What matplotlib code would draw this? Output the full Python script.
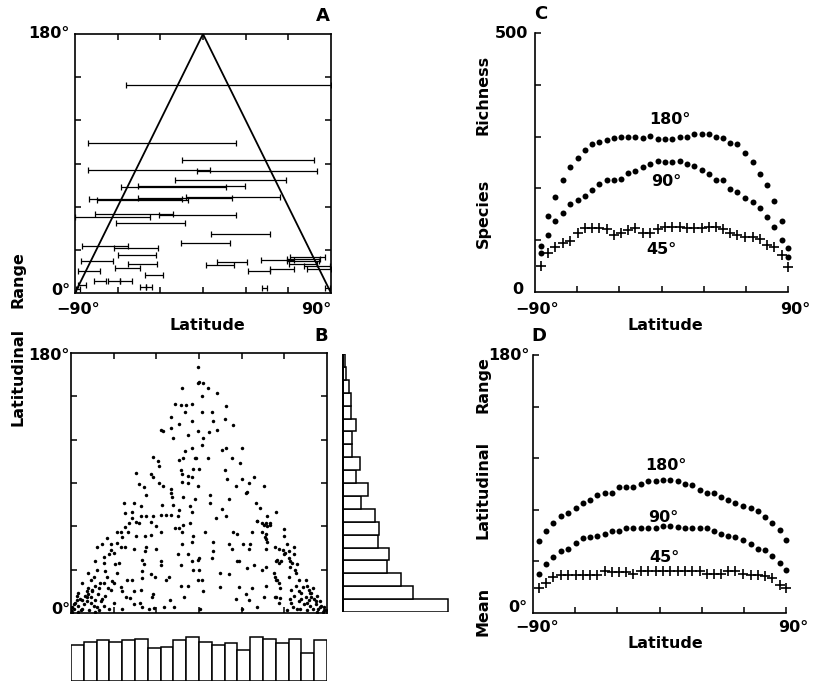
import numpy as np
import matplotlib
matplotlib.use('Agg')
import matplotlib.pyplot as plt

plt.rcParams['font.family'] = ['DejaVu Sans']
plt.rcParams['font.weight'] = 'bold'

W, H = 820, 682

# ---- panel A: sample of latitudinal ranges (south / north limits, degrees)
range_lo = [-54.3, -81.1, -14.9, -81.1, -4.3, -20.0, -57.8, -45.4, -12.1, -45.4,
            -79.9, -74.7, -75.9, -30.6, -90.0, -61.4, 5.5, -15.4, -85.3, -62.5,
            -59.5, -86.0, 9.7, -52.4, 2.0, -87.7, -61.8, 31.6, -40.7, 46.8,
            73.1, -76.4, -66.5, -58.3, -87.7, -44.3, -40.1, 41.4, 40.7, 59.0,
            61.3, 59.0, 60.2, 70.8, 86.0, -89.5]
range_hi = [90.0, 22.9, 77.8, 4.6, 80.2, 58.6, 16.1, 29.2, 54.3, 20.3,
            -14.9, -10.2, -20.8, 23.4, -37.2, -13.0, 46.8, 19.1, -52.4, -31.3,
            -33.2, -63.5, 30.9, -32.0, 21.5, -72.4, -44.2, 46.8, -28.3, 63.7,
            90.0, -68.2, -58.3, -50.1, -82.3, -40.1, -36.1, 44.9, 63.7, 82.5,
            86.0, 81.3, 80.2, 89.5, 89.5, -86.5]
tri_lat = [-90, 0, 90]
tri_range = [0, 180, 0]

# ---- panel B: midpoint latitude vs range of simulated species
b_lat = [-1, -1, -12, -17, -13, -9, -5, -20, -10, -5, -14,
         -27, -25, -20, -18, -8, -1, -5, -10,
         -32, -29, -28, -14, -11, -3, -4, -13,
         -44, -34, -32, -12, -8, -5,
         -42, -39, -28, -25, -20, -12, -8, -1,
         -37, -20, -19, -11, -3,
         -53, -46, -41, -26, -18, -6,
         -52, -47, -41, -37, -32, -27, -23, -20, -14, -5, -15,
         -44, -42, -34, -30, -17, -14, -11, -6, -12,
         -65, -58, -55, -50, -44, -38, -34, -27, -4,
         -72, -68, -62, -55, -52, -46, -37, -38, -30, -12, -5,
         -73, -67, -63, -59, -40, -39, -27, -15, -8, -5, -1,
         -78, -72, -66, -58, -47, -40, -34, -27, -23, -21, -13, -4,
         -82, -76, -73, -67, -61, -55, -40, -31, -1,
         -85, -79, -70, -62, -54, -46, -41, -33, -13, -8,
         -88, -86, -82, -76, -72, -68, -63, -60, -54, -51, -46, -40, -35, -32, -90, -89, -85,
         0, 3, 6, 13, 2, 19, 2, 9, 18, 24, 10, 7, 13, 3, 2, 19, 30, 16, -2, 6, 23, 29,
         0, 18, 20, 30, 39, 26, 35, 46, 33, 34, 8, 21, 8, 40, 16, 43, 54, 19, 41, 48,
         12, 47, 48, 50, 4, 24, 27, 37, 47, 60, 44,
         10, 21, 31, 36, 47, 60, 62, 67,
         10, 23, 35, 47, 56, 60, 63, 67,
         0, 9, 27, 28, 39, 47, 54, 58, 64, 69,
         0, 15, 21, 34, 44, 53, 54, 63, 68, 70, 75,
         2, 15, 28, 33, 37, 47, 57, 65, 70, 77, 78,
         3, 26, 30, 35, 41, 46, 54, 56, 62, 65, 69, 72, 76, 79, 82, 85, 88, 83, 1,
         -88, -87, -85, -84, -83, -81, -80, -79, -78, -77, -76, -75, -74, -73, -71,
         -70, -69, -67, -66, -64, -89, -86, -82, -78, -73,
         64, 66, 67, 68, 70, 71, 72, 73, 74, 75, 76, 77, 78, 79, 80, 81, 82, 83,
         84, 85, 86, 87, 88, 89, 80, 76,
         41, 44, 45.5, 50, 46.6, 47.8, 53.7, 54.8, 56, 58.8, 60.7, 63, 64.2, 65.4,
         67.7, 53.7, 54.8, 56, 53.2, 57.2,
         -66.9, -62.2, -59.9, -57.6, -54, -51.7, -49.4, -47, -56.4, -64.6, -69.3,
         -75.1, -78.6, -73.9, -59.9, -50.5, -48.2, -41.2, -31.8, -24.8, -20.1,
         -17.8, -10.8]
b_range = [170, 159, 156, 145, 144, 144, 145, 136, 139, 133, 131,
           127, 126, 128, 121, 123, 126, 114, 112,
           108, 105, 102, 106, 107, 107, 100, 99,
           97, 96, 94, 96, 95, 94,
           89, 87, 90, 88, 86, 91, 90, 88,
           82, 83, 80, 80, 79,
           76, 76, 74, 75, 75, 74,
           69, 70, 67, 67, 67, 68, 68, 68, 71, 70, 67,
           63, 62, 63, 60, 59, 59, 61, 62, 56,
           52, 56, 56, 56, 53, 53, 54, 56, 53,
           46, 48, 48, 46, 46, 44, 46, 43, 44, 48, 49,
           36, 39, 41, 34, 37, 34, 36, 41, 41, 36, 37,
           28, 30, 29, 28, 23, 29, 27, 33, 23, 25, 33, 30,
           21, 23, 19, 21, 22, 18, 24, 25, 23,
           14, 15, 17, 16, 15, 15, 16, 11, 19, 19,
           6, 9, 3, 7, 4, 10, 3, 7, 3, 11, 6, 4, 3, 13, 2, 4, 1,
           160, 159, 156, 152, 150, 143, 139, 139, 134, 130, 133, 125, 127, 121, 116, 114, 114, 113, 107, 107, 107, 104,
           100, 99, 93, 93, 94, 88, 90, 88, 83, 84, 82, 79, 76, 76, 72, 73, 70, 67, 64, 67,
           66, 62, 60, 61, 56, 56, 55, 56, 55, 58, 56,
           49, 48, 48, 48, 51, 53, 48, 46,
           43, 44, 44, 44, 44, 41, 43, 41,
           38, 38, 36, 36, 33, 32, 36, 36, 36, 34,
           30, 28, 27, 31, 30, 28, 23, 25, 28, 23, 23,
           23, 18, 18, 13, 17, 19, 17, 16, 15, 16, 14,
           15, 10, 3, 9, 4, 11, 11, 7, 2, 7, 3, 10, 7, 11, 8, 4, 2, 1, 3,
           3, 7, 5, 10, 2, 6, 12, 8, 17, 2, 11, 15, 5, 9, 13,
           2, 8, 5, 12, 17, 1, 12, 9, 13, 1,
           10, 4, 12, 19, 8, 3, 14, 18, 6, 11, 2, 9, 5, 14, 3, 10, 6, 12,
           3, 8, 5, 1, 4, 2, 17, 19,
           64, 62, 61, 62, 52.8, 49.4, 46, 36.7, 34.4, 43.6, 41.3, 37.8, 32.1, 34.4,
           29.8, 25.2, 22.9, 20.5, 11.3, 10.2,
           34.4, 43.6, 41.3, 48.2, 52.8, 59.8, 62.1, 65.5, 34.4, 25.2, 20.5,
           15.9, 11.3, 25.2, 20.5, 22.9, 10.2, 6.7, 3.2, 4.4, 9,
           4.4, 11.3]

# marginal histograms of panel B (20 bins of 9 degrees)
lat_counts = [23, 25, 26, 25, 26, 27, 21, 22, 26, 28,
              25, 23, 24, 20, 28, 27, 24, 27, 18, 26]
range_counts = [92, 61, 51, 39, 40, 31, 32, 28, 16, 22,
                12, 15, 8, 8, 12, 7, 7, 6, 3, 2]

# ---- panels C and D: latitude of sample points
lat_pts = [-86, -81, -76, -70, -65, -59.5, -54.5, -49.5, -44.5, -39, -34, -29,
           -23.5, -18.5, -13, -8, -2.5, 2.5, 7.5, 13, 18, 23, 28.5, 34, 39,
           44, 49, 54, 59.5, 65, 70, 75, 80, 85.5, 90]

rich_180 = [88, 147, 184, 217, 241, 259, 275, 285, 290, 293, 297, 300, 300, 300,
            298, 301, 295, 295, 295, 299, 299, 305, 305, 305, 300, 297, 288, 285,
            269, 251, 227, 207, 176, 137, 84]
rich_90 = [75, 111, 137, 153, 170, 178, 186, 197, 208, 217, 217, 219, 229, 233,
           241, 247, 253, 251, 251, 253, 248, 243, 235, 228, 216, 216, 199, 194,
           181, 173, 162, 145, 125, 100, 68]
rich_45 = [50, 75, 87, 94, 98, 113, 123, 123, 123, 121, 111, 114, 119, 123,
           114, 114, 121, 125, 126, 126, 123, 123, 123, 126, 126, 121, 114, 110,
           106, 106, 103, 90, 87, 71, 48]

mean_180 = [50, 57, 63, 68, 70, 73, 77, 79, 82, 84, 84, 88, 88, 88, 90, 92, 92,
            93, 93, 92, 90, 89, 86, 84, 84, 81, 79, 77, 75, 73, 71, 67, 63, 58, 51]
mean_90 = [27, 34, 39, 43, 45, 49, 52, 53, 54, 55, 57, 57, 59, 59, 59, 59, 59,
           61, 61, 60, 59, 59, 59, 59, 57, 55, 54, 53, 51, 48, 45, 44, 40, 35, 30]
mean_45 = [17.4, 20.9, 25.1, 26.7, 26.7, 26.7, 26.7, 26.7, 26.7, 29.5, 28.3,
           28.3, 28.3, 27.4, 29.5, 29.5, 29.5, 29.5, 29.5, 29.5, 29.5, 29.5, 29.5,
           27.2, 27.2, 27.2, 29, 29, 27.2, 26.7, 26.7, 25.5, 24.4, 19.7, 17.4]


fig = plt.figure(figsize=(W / 100, H / 100), dpi=100)


def box(x0, y0, x1, y1):
    # pixel box (top-left origin) -> figure fraction rect
    return [x0 / W, 1 - y1 / H, (x1 - x0) / W, (y1 - y0) / H]


def ptext(x, y, s, **kw):
    kw.setdefault('fontsize', 11.5)
    kw.setdefault('fontweight', 'bold')
    kw.setdefault('va', 'center')
    kw.setdefault('ha', 'center')
    fig.text(x / W, 1 - y / H, s, **kw)


def framed(ax):
    ax.set_xlim(-90, 90)
    ax.set_ylim(0, 180)
    ax.set_xticks([-60, -30, 0, 30, 60])
    ax.set_yticks([30, 60, 90, 120, 150])
    ax.tick_params(direction='in', top=True, right=True, length=4, width=1.1,
                   labelleft=False, labelbottom=False)
    for sp in ax.spines.values():
        sp.set_linewidth(1.2)


# A
ax_a = fig.add_axes(box(75, 34, 331, 293))
framed(ax_a)
ax_a.plot(tri_lat, tri_range, color='black', lw=1.3)
lo = np.array(range_lo)
hi = np.array(range_hi)
ext = hi - lo
ax_a.errorbar((lo + hi) / 2, ext, xerr=ext / 2, fmt='none', ecolor='black',
              elinewidth=0.9, capsize=2.2, capthick=0.9)

# B
ax_b = fig.add_axes(box(71, 353, 327, 613))
framed(ax_b)
ax_b.plot(b_lat, b_range, 'o', ms=2.5, color='black', mew=0)

# B marginal histograms
bin_lat = np.arange(-90, 90, 9) + 4.5
ax_bl = fig.add_axes(box(71, 634, 327, 681))
ax_bl.bar(bin_lat, lat_counts, width=9, color='white', edgecolor='black', lw=1.1)
ax_bl.set_xlim(-90, 90)
ax_bl.set_ylim(0, 30)
ax_bl.axis('off')

bin_rng = np.arange(0, 180, 9) + 4.5
ax_br = fig.add_axes(box(342, 354, 462, 612))
ax_br.barh(bin_rng, range_counts, height=9, color='white', edgecolor='black', lw=1.1)
ax_br.axvline(0, color='black', lw=1.4)
ax_br.set_ylim(0, 180)
ax_br.set_xlim(-0.5, 104)
ax_br.axis('off')


def open_axes(ax, ymax, yticks):
    ax.set_xlim(-90, 90)
    ax.set_ylim(0, ymax)
    ax.spines['top'].set_visible(False)
    ax.spines['right'].set_visible(False)
    ax.spines['left'].set_linewidth(1.2)
    ax.spines['bottom'].set_linewidth(1.2)
    ax.set_xticks([-60, -30, 0, 30, 60, 90])
    ax.set_yticks(yticks)
    ax.tick_params(direction='in', length=4, width=1.1,
                   labelleft=False, labelbottom=False)
    ax.patch.set_alpha(0)


# C
ax_c = fig.add_axes(box(535, 33, 788, 292))
open_axes(ax_c, 500, [100, 200, 300, 400, 500])
ax_c.plot(lat_pts, rich_180, 'o', ms=4.3, color='black', mew=0, clip_on=False)
ax_c.plot(lat_pts, rich_90, 'o', ms=4.3, color='black', mew=0, clip_on=False)
ax_c.plot(lat_pts, rich_45, '+', ms=7, color='black', mew=1.2, clip_on=False)

# D
ax_d = fig.add_axes(box(533, 355, 786, 613))
open_axes(ax_d, 180, [36, 72, 108, 144, 180])
ax_d.plot(lat_pts, mean_180, 'o', ms=4.3, color='black', mew=0, clip_on=False)
ax_d.plot(lat_pts, mean_90, 'o', ms=4.3, color='black', mew=0, clip_on=False)
ax_d.plot(lat_pts, mean_45, '+', ms=7, color='black', mew=1.2, clip_on=False)

# panel letters
ptext(323, 16, 'A', fontsize=13)
ptext(321, 336, 'B', fontsize=13)
ptext(541, 14, 'C', fontsize=13)
ptext(539, 336, 'D', fontsize=13)

# A / B tick labels
ptext(70, 34, '180°', ha='right')
ptext(70, 290, '0°', ha='right')
ptext(78, 309, '−90°')
ptext(316, 309, '90°')
ptext(207, 325, 'Latitude')
ptext(70, 356, '180°', ha='right')
ptext(70, 609, '0°', ha='right')
ptext(18, 280, 'Range', rotation=90)
ptext(18, 377, 'Latitudinal', rotation=90)

# C labels
ptext(528, 33, '500', ha='right')
ptext(523, 289, '0', ha='right')
ptext(537, 309, '−90°')
ptext(795, 309, '90°')
ptext(665, 325, 'Latitude')
ptext(483, 95, 'Richness', rotation=90)
ptext(483, 213, 'Species', rotation=90)
ptext(670, 120, '180°')
ptext(666, 182, '90°')
ptext(661, 249, '45°')

# D labels
ptext(530, 356, '180°', ha='right')
ptext(527, 607, '0°', ha='right')
ptext(537, 628, '−90°')
ptext(793, 628, '90°')
ptext(665, 643, 'Latitude')
ptext(483, 385, 'Range', rotation=90)
ptext(483, 490, 'Latitudinal', rotation=90)
ptext(483, 611, 'Mean', rotation=90)
ptext(666, 466, '180°')
ptext(663, 517, '90°')
ptext(664, 558, '45°')

fig.savefig('out.png', dpi=100)
